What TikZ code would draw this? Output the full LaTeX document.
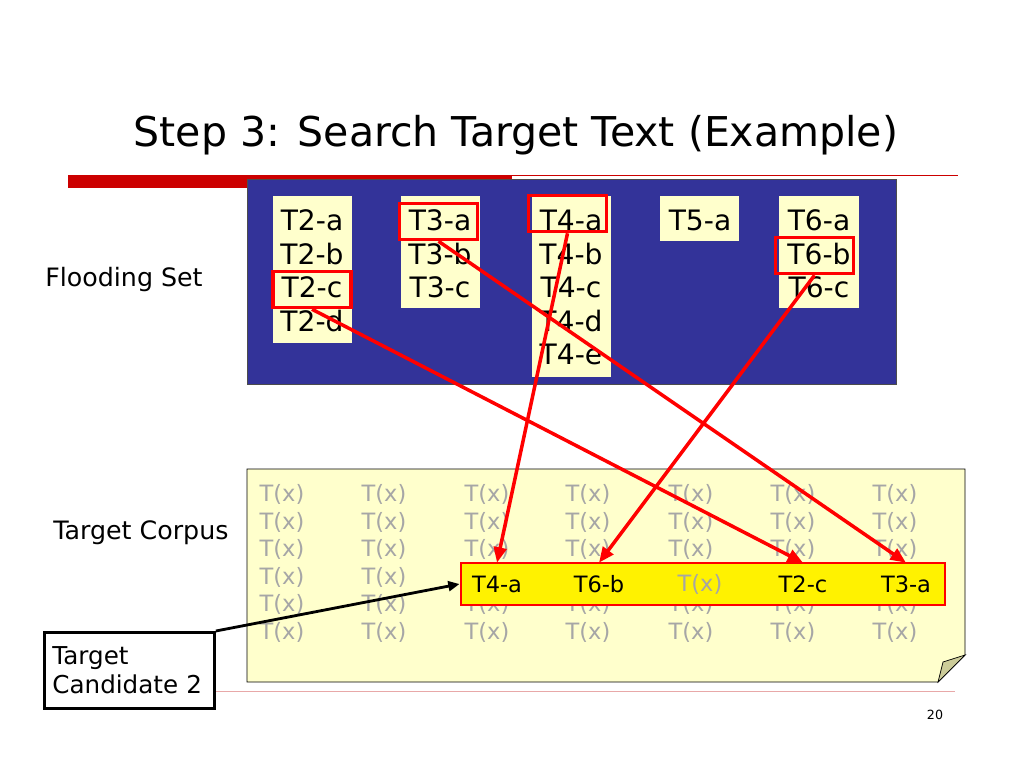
\documentclass[tikz,border=0pt]{standalone}
\usepackage{fontspec}
\setmainfont{DejaVu Sans}
\usetikzlibrary{arrows.meta}
\definecolor{slidered}{HTML}{CC0000}
\definecolor{floodblue}{HTML}{333399}
\definecolor{cream}{HTML}{FFFFCC}
\definecolor{foldkhaki}{HTML}{CCCC99}
\definecolor{txgray}{HTML}{A6A6A6}
\definecolor{footpink}{HTML}{E8A8A8}
\begin{document}
\begin{tikzpicture}[x=0.025cm,y=-0.025cm]
    \tikzset{
        item/.style={inner sep=0, font=\fontsize{20}{24}\selectfont},
        pick/.style={draw=red, line width=2.5pt, minimum width=1.95cm, minimum height=0.9cm, inner sep=0},
        tx/.style={inner sep=0, text=txgray, font=\fontsize{16}{19}\selectfont},
        found/.style={inner sep=0, minimum height=1.05cm, font=\fontsize{16}{19}\selectfont},
        label/.style={anchor=west, inner sep=0, font=\fontsize{18}{21.6}\selectfont},
        link/.style={red, line width=2.5pt, -{Triangle[length=11pt,width=9pt]}}
    }
    \useasboundingbox (0,0) rectangle (1024,768);

    % title and slide lines
    \node[inner sep=0, font=\fontsize{29.2}{35}\selectfont] (title) at (516,135) {Step 3: Search Target Text (Example)};
    \fill[slidered] (68,175) rectangle (512,188);
    \draw[slidered, line width=0.7pt] (512,175.5) -- (958,175.5);
    \draw[footpink, line width=0.5pt] (68,691) -- (955,691);
    \node[inner sep=0, font=\fontsize{9}{11}\selectfont] (page) at (935,715) {20};

    % flooding set
    \node[label] (flood) at (45,280) {Flooding Set};
    \draw[fill=floodblue, draw=black!70, line width=0.5pt] (247,179) rectangle (896,384);
    \fill[cream] (273,196) rectangle (352,343);
    \fill[cream] (401,196) rectangle (480,308);
    \fill[cream] (532,196) rectangle (611,377);
    \fill[cream] (660,196) rectangle (739,241);
    \fill[cream] (779,196) rectangle (859,308);
    \foreach \x/\col/\rows in {312/2/{a,b,c,d}, 440/3/{a,b,c}, 571/4/{a,b,c,d,e}, 700/5/{a}, 819/6/{a,b,c}}{
        \foreach \r [count=\i from 0] in \rows {
            \node[item] (t\col\r) at (\x,220+33.7*\i) {T\col-\r};
        }
    }
    \node[pick] (h3a) at (438.5,221.5) {};
    \node[pick] (h4a) at (567.5,213.5) {};
    \node[pick] (h2c) at (312,289.5) {};
    \node[pick] (h6b) at (814.5,255.5) {};

    % target corpus
    \node[label] (corpus) at (53,533) {Target Corpus};
    \draw[fill=cream, line width=0.5pt] (247,469) -- (965,469) -- (965,655) -- (938,682) -- (247,682) -- cycle;
    \draw[fill=foldkhaki, line width=0.5pt] (938,682) -- (943,662) -- (965,655) -- cycle;
    \foreach \x [count=\c] in {282,384}{
        \foreach \y [count=\r] in {494,522,549,577,604,632}{
            \node[tx] (x\c\r) at (\x,\y) {T(x)};
        }
    }
    % row 4 of the other columns lies under the candidate
    \foreach \x [count=\c from 3] in {487,588,691,793,895}{
        \foreach \y/\r in {494/1,522/2,549/3,604/5,632/6}{
            \node[tx] (x\c\r) at (\x,\y) {T(x)};
        }
    }
    \node[draw=red, fill=yellow, line width=2pt, minimum width=12.1cm, minimum height=1.05cm, inner sep=0] (cand) at (703,584) {};
    \node[found] (k4a) at (497,584) {T4-a};
    \node[found] (k6b) at (599,584) {T6-b};
    \node[found, text=txgray] (kx) at (700,584) {T(x)};
    \node[found] (k2c) at (803,584) {T2-c};
    \node[found] (k3a) at (906,584) {T3-a};

    % target candidate
    \node[draw, fill=white, line width=2pt, anchor=north west, minimum height=1.9cm, text width=3.85cm, inner xsep=0.2cm, inner ysep=0, align=left, font=\fontsize{17.5}{21}\selectfont] (tc) at (43,631) {Target\\Candidate 2};

    % links
    \draw[link] (h4a.south) -- (k4a.north);
    \draw[link] (h3a.south) -- (k3a.north);
    \draw[link] (h2c.south) -- (k2c.north);
    \draw[link] (h6b.south) -- (k6b.north);
    \draw[line width=2pt, -{Triangle[length=8pt,width=7pt]}] (tc.north east) -- (cand.west);
\end{tikzpicture}
\end{document}
